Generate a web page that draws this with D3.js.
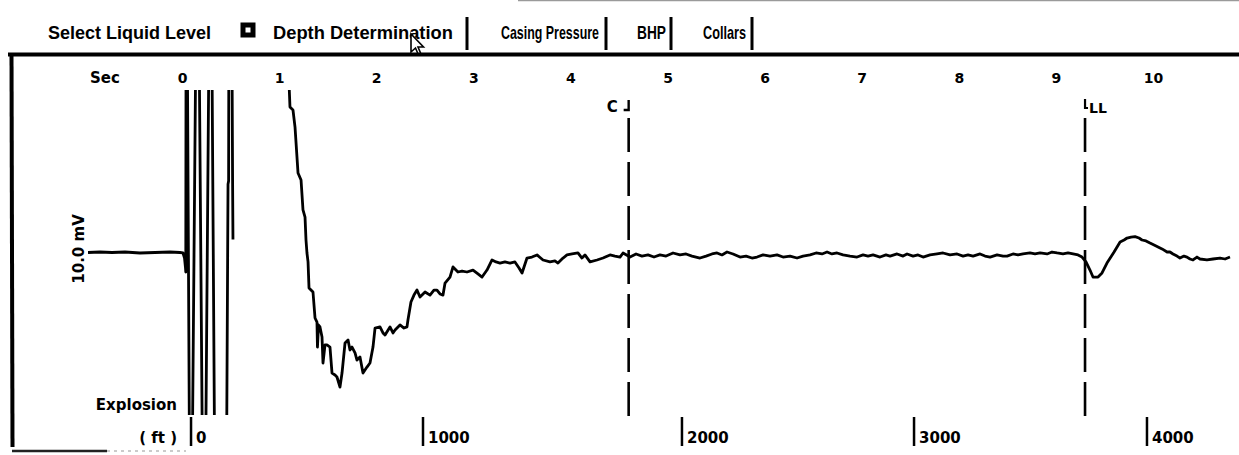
<!DOCTYPE html>
<meta charset="utf-8">
<script src="https://d3js.org/d3.v7.min.js"></script>
<style>
  body { margin: 0; background: #fff; }
  svg { display: block; }
  .menu text { font-family: "Liberation Sans", Arial, sans-serif; font-weight: bold; font-size: 18px; }
  .lbl { font-family: "DejaVu Sans", sans-serif; font-weight: bold; font-size: 15px; }
  .num { font-family: "DejaVu Sans", sans-serif; font-weight: bold; font-size: 15px; }
</style>
<div id="chart"></div>
<script>
// ---- data ----
const selectLabel = "Select Liquid Level";
const menuItems = ["Depth Determination", "Casing Pressure", "BHP", "Collars"];
const secTicks = [0, 1, 2, 3, 4, 5, 6, 7, 8, 9, 10];
const depthTicks = [0, 1000, 2000, 3000, 4000];
const depthTickSecs = [0.093, 2.482, 5.149, 7.539, 9.938];   // time at which each depth is reached
const markerLabels = ["C", "LL"];
const markerSecs = [4.6, 9.3];

// [sec, mV] - baseline, explosion burst (runs off scale)
const burst = [
  [-0.968, 0], [-0.845, 0.03], [-0.721, 0], [-0.587, 0.03], [-0.433, -0.03], [-0.278, 0],
  [-0.124, 0.03], [-0.021, 0], [0.010, -0.03], [0.026, -0.34], [0.036, -0.95], [0.039, -1.2],
  [0.044, 25], [0.088, -25], [0.160, 25], [0.227, -25], [0.294, 25], [0.350, -25],
  [0.448, -25], [0.474, 4.2], [0.480, 4.4], [0.486, 25], [0.505, 25], [0.521, 4.4], [0.525, 0.8]
];

// [sec, mV] - echo trace from 1.1 s on
const echo = [
  [1.105, 10.0], [1.112, 8.95], [1.143, 8.77], [1.164, 7.72], [1.195, 4.89], [1.226, 4.46],
  [1.246, 2.62], [1.267, 2.18], [1.277, 0.77], [1.287, -0.03], [1.298, -0.58], [1.308, -2.18],
  [1.349, -2.43], [1.370, -4.03], [1.390, -4.28], [1.395, -5.82], [1.406, -4.46], [1.421, -4.58],
  [1.442, -5.20], [1.452, -6.80], [1.473, -5.69], [1.493, -5.69], [1.524, -5.82], [1.545, -7.42],
  [1.576, -7.54], [1.596, -7.66], [1.627, -8.28], [1.648, -7.42], [1.679, -5.57], [1.710, -5.38],
  [1.730, -6.00], [1.751, -5.82], [1.782, -6.18], [1.802, -6.62], [1.833, -6.43], [1.864, -7.42],
  [1.905, -7.05], [1.936, -6.80], [1.967, -5.82], [1.988, -4.65], [2.039, -4.58], [2.070, -4.95],
  [2.091, -5.08], [2.142, -4.58], [2.173, -4.95], [2.194, -4.77], [2.245, -4.46], [2.286, -4.65],
  [2.317, -4.58], [2.327, -4.15], [2.358, -3.05], [2.389, -2.62], [2.420, -2.31], [2.451, -2.74],
  [2.503, -2.43], [2.554, -2.62], [2.595, -2.31], [2.626, -2.31], [2.657, -2.55], [2.688, -2.62],
  [2.709, -1.88], [2.760, -1.51], [2.791, -0.89], [2.842, -1.20], [2.884, -1.14], [2.935, -1.20],
  [2.997, -1.08], [3.048, -1.32], [3.090, -1.51], [3.141, -1.08], [3.193, -0.46], [3.234, -0.58],
  [3.275, -0.65], [3.326, -0.58], [3.378, -0.65], [3.429, -0.58], [3.471, -0.95], [3.502, -1.26],
  [3.553, -0.34], [3.604, -0.28], [3.656, -0.15], [3.718, -0.46], [3.790, -0.58], [3.841, -0.52],
  [3.872, -0.65], [3.924, -0.34], [3.965, -0.15], [4.017, -0.09], [4.078, -0.03], [4.119, -0.34],
  [4.150, -0.15], [4.202, -0.58], [4.274, -0.46], [4.336, -0.34], [4.408, -0.15], [4.459, -0.22],
  [4.511, -0.28], [4.542, -0.03], [4.614, -0.28], [4.676, -0.09], [4.737, -0.22], [4.799, -0.15],
  [4.861, -0.28], [4.923, -0.15], [4.985, -0.22], [5.057, -0.03], [5.129, -0.15], [5.191, -0.09],
  [5.252, -0.22], [5.335, -0.34], [5.397, -0.22], [5.458, -0.09], [5.510, -0.03], [5.561, -0.15],
  [5.613, 0.03], [5.675, -0.09], [5.747, -0.28], [5.809, -0.22], [5.870, -0.34], [5.922, -0.28],
  [5.984, -0.15], [6.056, -0.22], [6.128, -0.15], [6.190, -0.28], [6.262, -0.22], [6.334, -0.34],
  [6.396, -0.22], [6.468, -0.15], [6.530, -0.03], [6.591, -0.09], [6.643, 0.03], [6.694, -0.09],
  [6.746, -0.03], [6.808, -0.15], [6.880, -0.22], [6.952, -0.28], [7.014, -0.15], [7.065, -0.22],
  [7.117, -0.15], [7.189, -0.28], [7.250, -0.15], [7.292, -0.22], [7.364, -0.09], [7.426, -0.22],
  [7.467, -0.09], [7.529, -0.22], [7.580, -0.15], [7.632, -0.28], [7.704, -0.15], [7.776, -0.09],
  [7.838, -0.03], [7.910, -0.15], [7.982, -0.09], [8.044, -0.22], [8.095, -0.15], [8.147, -0.22],
  [8.219, -0.09], [8.270, -0.22], [8.322, -0.28], [8.394, -0.15], [8.456, -0.22], [8.497, -0.22],
  [8.558, -0.09], [8.610, -0.15], [8.661, -0.09], [8.733, -0.03], [8.785, -0.09], [8.837, -0.03],
  [8.909, -0.09], [8.960, 0.03], [9.012, -0.03], [9.073, -0.09], [9.125, -0.03], [9.177, -0.09],
  [9.228, -0.15], [9.269, -0.28], [9.310, -0.58], [9.351, -1.08], [9.382, -1.51], [9.434, -1.51],
  [9.475, -1.26], [9.526, -0.65], [9.599, 0.03], [9.661, 0.65], [9.702, 0.77], [9.733, 0.89],
  [9.774, 0.95], [9.815, 0.98], [9.856, 0.89], [9.887, 0.77], [9.928, 0.71], [9.969, 0.58],
  [10.011, 0.46], [10.052, 0.34], [10.093, 0.22], [10.145, 0.03], [10.175, 0.03], [10.206, -0.09],
  [10.247, -0.22], [10.278, -0.34], [10.319, -0.22], [10.350, -0.28], [10.381, -0.40], [10.412, -0.46],
  [10.453, -0.28], [10.484, -0.40], [10.556, -0.46], [10.618, -0.40], [10.690, -0.34], [10.742, -0.40],
  [10.793, -0.28]
];

const width = 1239, height = 455;

const svg = d3.select("#chart")
  .append("svg")
  .attr("width", width)
  .attr("height", height);

// scales
const x = d3.scaleLinear().domain([0, 10]).range([182, 1153]);
const y = d3.scaleLinear().domain([-10, 10]).range([415, 90]);

// ---- menu bar ----
svg.append("line")
  .attr("x1", 518).attr("x2", width).attr("y1", 0.5).attr("y2", 0.5)
  .attr("stroke", "#9a9a9a").attr("stroke-width", 1.5);

const menu = svg.append("g").attr("class", "menu");
menu.append("text").attr("x", 48).attr("y", 38.5).text(selectLabel);
menu.append("rect")
  .attr("x", 243).attr("y", 25).attr("width", 10).attr("height", 10)
  .attr("fill", "#fff").attr("stroke", "#000").attr("stroke-width", 5);

// tab layout (text start, text width, separator)
const tabX = [273, 501, 637, 703], tabW = [180, 98, 29, 43], sepX = [467, 606, 671, 752];
menuItems.forEach((label, i) => {
  const t = menu.append("text").text(label);
  const sx = tabW[i] / t.node().getComputedTextLength();
  t.attr("transform", `translate(${tabX[i]},38.5) scale(${sx},1)`);
  menu.append("line")
    .attr("x1", sepX[i]).attr("x2", sepX[i]).attr("y1", 17).attr("y2", 50)
    .attr("stroke", "#000").attr("stroke-width", 3);
});

// mouse pointer over the tab
svg.append("path")
  .attr("transform", "translate(411,34)")
  .attr("d", "M0,0 L0,18 L4.5,14 L7.5,21 L10,20 L7,13 L12.5,13 Z")
  .attr("fill", "#fff").attr("stroke", "#000").attr("stroke-width", 1.6);

// ---- frame ----
svg.append("line").attr("x1", 8).attr("x2", width).attr("y1", 54.5).attr("y2", 54.5)
  .attr("stroke", "#000").attr("stroke-width", 4);
svg.append("line").attr("x1", 11.5).attr("x2", 12.5).attr("y1", 53).attr("y2", 447)
  .attr("stroke", "#000").attr("stroke-width", 4);
svg.append("line").attr("x1", 12).attr("x2", 107).attr("y1", 451).attr("y2", 451)
  .attr("stroke", "#222").attr("stroke-width", 2.5);
svg.append("line").attr("x1", 107).attr("x2", 186).attr("y1", 451).attr("y2", 451)
  .attr("stroke", "#bbb").attr("stroke-width", 1.5).attr("stroke-dasharray", "3 4");

// ---- time axis (top) ----
const secAxis = svg.append("g")
  .attr("transform", "translate(0,83)")
  .call(d3.axisTop(x).tickValues(secTicks).tickSize(0).tickPadding(0).tickFormat(d3.format("d")));
secAxis.select(".domain").remove();
secAxis.selectAll("text")
  .attr("fill", "#000")
  .style("font-family", "DejaVu Sans").style("font-weight", "bold").style("font-size", "14px");

svg.append("text").attr("class", "lbl")
  .attr("x", 105).attr("y", 83).attr("text-anchor", "middle").text("Sec");

// ---- depth axis (bottom) ----
const depthG = svg.append("g");
depthG.selectAll("line")
  .data(depthTicks)
  .join("line")
    .attr("x1", (d, i) => x(depthTickSecs[i])).attr("x2", (d, i) => x(depthTickSecs[i]))
    .attr("y1", 417).attr("y2", 446)
    .attr("stroke", "#000").attr("stroke-width", 2.5);
depthG.selectAll("text")
  .data(depthTicks)
  .join("text")
    .attr("class", "num")
    .attr("x", (d, i) => x(depthTickSecs[i]) + 5).attr("y", 443)
    .text(d => d);

svg.append("text").attr("class", "lbl")
  .attr("x", 177).attr("y", 443).attr("text-anchor", "end").text("( ft )");
svg.append("text").attr("class", "lbl")
  .attr("x", 177).attr("y", 410).attr("text-anchor", "end").text("Explosion");
svg.append("text").attr("class", "lbl")
  .attr("transform", "translate(84,249) rotate(-90)")
  .attr("text-anchor", "middle").text("10.0 mV");

// ---- markers C and LL ----
markerLabels.forEach((label, i) => {
  const mx = x(markerSecs[i]);
  svg.append("line")
    .attr("x1", mx).attr("x2", mx).attr("y1", 118).attr("y2", 418)
    .attr("stroke", "#000").attr("stroke-width", 2.6)
    .attr("stroke-dasharray", "34 10");
  if (i === 0) {
    svg.append("path").attr("d", `M${mx - 5},110 L${mx},110 L${mx},100`)
      .attr("fill", "none").attr("stroke", "#000").attr("stroke-width", 2.4);
    svg.append("text").attr("class", "lbl")
      .attr("x", mx - 11).attr("y", 112).attr("text-anchor", "end").text(label);
  } else {
    svg.append("path").attr("d", `M${mx},99 L${mx},108 L${mx + 3},108`)
      .attr("fill", "none").attr("stroke", "#000").attr("stroke-width", 2.2);
    svg.append("text").attr("class", "lbl").style("font-size", "14px")
      .attr("x", mx + 4).attr("y", 113).text(label);
  }
});

// ---- trace ----
svg.append("clipPath").attr("id", "plot")
  .append("rect").attr("x", 14).attr("y", y(10)).attr("width", width - 14).attr("height", y(-10) - y(10));

const line = d3.line().x(d => x(d[0])).y(d => y(d[1]));

svg.append("g").attr("clip-path", "url(#plot)")
  .selectAll("path")
  .data([burst, echo])
  .join("path")
    .attr("d", line)
    .attr("fill", "none")
    .attr("stroke", "#000")
    .attr("stroke-width", 2.8)
    .attr("stroke-linejoin", "round");
</script>
